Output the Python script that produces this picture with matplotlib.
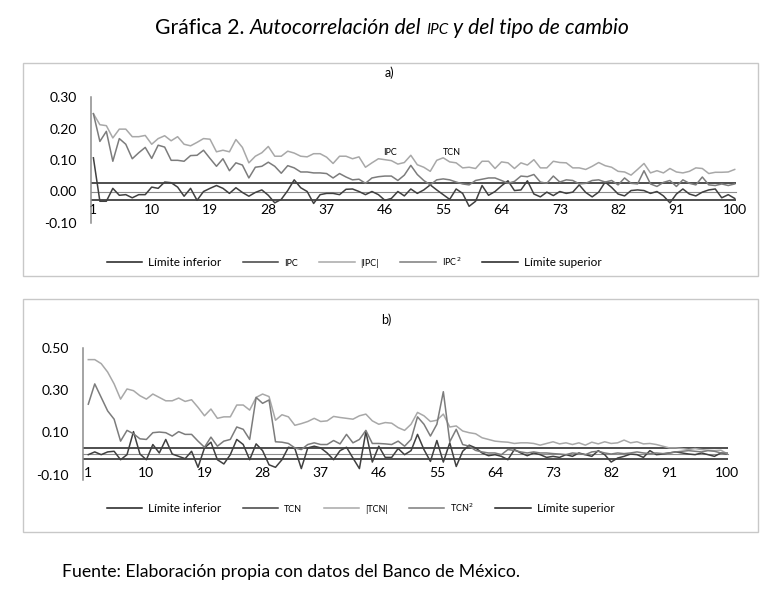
import numpy as np
import matplotlib
matplotlib.use("Agg")
import matplotlib.pyplot as plt
from matplotlib.patches import Rectangle
from matplotlib.ticker import FormatStrFormatter

plt.rcParams['font.family'] = ['Lato', 'DejaVu Sans']

lags = np.arange(1, 101)
xtick_vals = list(range(1, 101, 9))

# limites de confianza
lim_inf = -0.026
lim_sup = 0.026

# panel a) IPC
ipc = [0.107, -0.031, -0.031, 0.010, -0.012, -0.010, -0.020, -0.010, -0.010, 0.014,
       0.010, 0.030, 0.028, 0.014, -0.015, 0.010, -0.028, 0.000, 0.010, 0.019,
       0.010, -0.006, 0.012, -0.003, -0.015, -0.003, 0.005, -0.012, -0.036, -0.025,
       0.003, 0.037, 0.012, 0.000, -0.038, -0.010, -0.006, -0.006, -0.010, 0.007,
       0.008, 0.000, -0.010, 0.000, -0.010, -0.028, -0.022, 0.000, -0.014, 0.008,
       -0.006, 0.005, 0.021, 0.005, -0.010, -0.025, 0.008, -0.006, -0.047, -0.031,
       0.019, -0.012, 0.000, 0.018, 0.034, 0.003, 0.005, 0.034, -0.008, -0.017,
       -0.002, -0.013, 0.000, -0.006, -0.002, 0.021, -0.003, -0.017, -0.002, 0.030,
       0.013, -0.008, -0.014, 0.003, 0.005, 0.003, -0.006, 0.000, -0.014, -0.036,
       -0.008, 0.008, -0.008, -0.014, -0.002, 0.005, 0.008, -0.020, -0.010, -0.022]
ipc_abs = [0.247, 0.212, 0.209, 0.170, 0.198, 0.198, 0.174, 0.174, 0.178, 0.150,
           0.168, 0.177, 0.161, 0.174, 0.150, 0.145, 0.156, 0.168, 0.166, 0.126,
           0.131, 0.126, 0.165, 0.140, 0.091, 0.112, 0.123, 0.143, 0.112, 0.112,
           0.128, 0.122, 0.112, 0.110, 0.120, 0.120, 0.109, 0.089, 0.112, 0.112,
           0.104, 0.110, 0.077, 0.091, 0.104, 0.101, 0.098, 0.087, 0.092, 0.115,
           0.085, 0.077, 0.064, 0.099, 0.107, 0.094, 0.091, 0.075, 0.077, 0.073,
           0.096, 0.096, 0.073, 0.094, 0.091, 0.073, 0.091, 0.084, 0.101, 0.075,
           0.075, 0.096, 0.092, 0.091, 0.075, 0.075, 0.070, 0.080, 0.092, 0.082,
           0.077, 0.064, 0.062, 0.052, 0.070, 0.089, 0.059, 0.066, 0.059, 0.073,
           0.062, 0.059, 0.064, 0.075, 0.073, 0.057, 0.061, 0.061, 0.062, 0.070]
ipc_sq = [0.247, 0.159, 0.191, 0.096, 0.168, 0.150, 0.104, 0.123, 0.140, 0.105,
          0.147, 0.141, 0.099, 0.099, 0.096, 0.114, 0.115, 0.131, 0.105, 0.080,
          0.104, 0.066, 0.091, 0.084, 0.043, 0.077, 0.080, 0.093, 0.080, 0.058,
          0.082, 0.075, 0.062, 0.062, 0.059, 0.059, 0.057, 0.043, 0.057, 0.046,
          0.037, 0.039, 0.026, 0.043, 0.047, 0.049, 0.049, 0.035, 0.052, 0.083,
          0.054, 0.035, 0.021, 0.037, 0.040, 0.037, 0.030, 0.024, 0.021, 0.035,
          0.039, 0.043, 0.043, 0.035, 0.026, 0.032, 0.049, 0.047, 0.054, 0.030,
          0.026, 0.049, 0.030, 0.037, 0.035, 0.024, 0.026, 0.035, 0.037, 0.030,
          0.035, 0.021, 0.043, 0.026, 0.024, 0.066, 0.024, 0.016, 0.029, 0.035,
          0.016, 0.037, 0.026, 0.021, 0.046, 0.021, 0.019, 0.024, 0.019, 0.024]

# panel b) TCN
tcn = [-0.005, 0.008, -0.005, 0.008, 0.011, -0.029, -0.005, 0.104, -0.002, -0.029,
       0.043, 0.003, 0.067, -0.002, -0.013, -0.024, 0.011, -0.065, 0.027, 0.054,
       -0.029, -0.049, -0.005, 0.067, 0.043, -0.029, 0.046, 0.014, -0.053, -0.065,
       -0.029, 0.030, 0.024, -0.071, 0.027, 0.035, 0.027, 0.003, -0.029, 0.014,
       0.030, -0.021, -0.071, 0.104, -0.040, 0.035, -0.018, -0.018, 0.024, -0.005,
       0.014, 0.091, 0.019, -0.037, 0.062, -0.040, 0.051, -0.061, 0.011, 0.040,
       0.027, 0.003, -0.010, -0.005, -0.013, -0.029, 0.019, 0.003, -0.010, 0.003,
       -0.005, -0.018, -0.013, -0.018, -0.005, -0.013, 0.003, -0.005, -0.013, 0.014,
       -0.005, -0.040, -0.021, -0.013, -0.002, -0.005, -0.018, 0.014, -0.005, -0.002,
       0.003, 0.008, 0.003, -0.002, -0.005, 0.003, -0.005, -0.013, 0.003, -0.002]
tcn_abs = [0.445, 0.445, 0.426, 0.386, 0.330, 0.258, 0.306, 0.298, 0.274, 0.258,
           0.282, 0.266, 0.250, 0.250, 0.263, 0.247, 0.255, 0.219, 0.179, 0.211,
           0.167, 0.174, 0.174, 0.230, 0.230, 0.206, 0.266, 0.282, 0.270, 0.158,
           0.184, 0.174, 0.134, 0.142, 0.152, 0.167, 0.152, 0.155, 0.176, 0.171,
           0.167, 0.163, 0.179, 0.187, 0.155, 0.139, 0.147, 0.144, 0.123, 0.110,
           0.139, 0.195, 0.179, 0.152, 0.158, 0.187, 0.126, 0.131, 0.107, 0.099,
           0.094, 0.075, 0.067, 0.059, 0.056, 0.054, 0.048, 0.051, 0.051, 0.048,
           0.040, 0.048, 0.056, 0.046, 0.051, 0.043, 0.051, 0.040, 0.054, 0.046,
           0.056, 0.048, 0.051, 0.064, 0.051, 0.056, 0.046, 0.048, 0.043, 0.035,
           0.027, 0.027, 0.024, 0.019, 0.024, 0.019, 0.016, 0.014, 0.016, -0.001]
tcn_sq = [0.234, 0.330, 0.266, 0.202, 0.163, 0.059, 0.110, 0.094, 0.070, 0.067,
          0.099, 0.102, 0.099, 0.083, 0.104, 0.091, 0.091, 0.059, 0.030, 0.078,
          0.035, 0.059, 0.067, 0.126, 0.115, 0.067, 0.266, 0.238, 0.254, 0.056,
          0.054, 0.048, 0.027, 0.019, 0.043, 0.051, 0.043, 0.043, 0.062, 0.046,
          0.091, 0.051, 0.067, 0.110, 0.048, 0.048, 0.046, 0.043, 0.059, 0.035,
          0.067, 0.174, 0.139, 0.083, 0.139, 0.293, 0.056, 0.115, 0.043, 0.035,
          0.015, 0.008, 0.003, 0.003, -0.005, 0.019, 0.015, 0.008, 0.003, 0.008,
          0.003, 0.003, 0.000, -0.002, -0.005, 0.003, 0.000, -0.005, 0.008, 0.011,
          0.003, -0.002, 0.003, 0.000, 0.003, 0.008, 0.003, 0.000, 0.003, 0.000,
          0.003, 0.008, 0.011, 0.014, 0.011, 0.008, 0.014, 0.011, 0.003, 0.003]

c_lim = '#1e1e1e'
c_dark = '#404040'
c_light = '#a8a8a8'
c_mid = '#7c7c7c'
c_axis = '#8c8c8c'

W, H = 779, 596
fig = plt.figure(figsize=(W / 100, H / 100), dpi=100)

def fx(px):
    return px / W

def fy(py):
    return 1 - py / H

# recuadros
for top, bot in [(63, 276), (299, 532)]:
    fig.add_artist(Rectangle((fx(23), fy(bot)), fx(758) - fx(23), fy(top) - fy(bot),
                             transform=fig.transFigure, fill=False, ec='#c8c8c8', lw=1))


def panel(rect, serie, serie_abs, serie_sq, nombre, ylim, yticks, xlim, pad_x, leg_y):
    ax = fig.add_axes(rect)
    ax.axhline(lim_inf, color=c_lim, lw=1.1, zorder=2)
    ax.axhline(lim_sup, color=c_lim, lw=1.1, zorder=2)
    l1, = ax.plot(lags, serie, color=c_dark, lw=1.1, zorder=3)
    l2, = ax.plot(lags, serie_abs, color=c_light, lw=1.1, zorder=3)
    l3, = ax.plot(lags, serie_sq, color=c_mid, lw=1.1, zorder=3)
    ax.set_ylim(*ylim)
    ax.set_xlim(*xlim)
    ax.set_yticks(yticks)
    ax.yaxis.set_major_formatter(FormatStrFormatter('%.2f'))
    ax.set_xticks(xtick_vals)
    ax.set_xticklabels([str(v) for v in xtick_vals])
    for s in ['top', 'right']:
        ax.spines[s].set_visible(False)
    ax.spines['bottom'].set_position(('data', 0))
    ax.spines['bottom'].set_color(c_axis)
    ax.spines['left'].set_color(c_axis)
    ax.spines['left'].set_linewidth(1.1)
    ax.tick_params(axis='both', length=0, labelsize=10, colors='black')
    ax.tick_params(axis='x', pad=pad_x)
    ax.tick_params(axis='y', pad=10)
    ax.set_facecolor('none')

    hl = plt.Line2D([], [], color=c_lim, lw=1.1)
    labels = ['Límite inferior', nombre, '|' + nombre + '|', nombre + '$^{2}$', 'Límite superior']
    leg = fig.legend([hl, l1, l2, l3, hl], labels, loc='center left',
                     bbox_to_anchor=(fx(107), fy(leg_y)), bbox_transform=fig.transFigure,
                     ncol=5, frameon=False, fontsize=8.5, handlelength=3.0,
                     handletextpad=0.5, columnspacing=1.8, borderpad=0, borderaxespad=0)
    for i in (1, 2, 3):
        leg.get_texts()[i].set_fontsize(6.5)
    return ax


ax_a = panel([fx(91), fy(223), 645 / W, (223 - 97) / H], ipc, ipc_abs, ipc_sq, 'IPC',
             (-0.10, 0.30), [-0.10, 0.00, 0.10, 0.20, 0.30], (0.63, 100.2), 9, 262)
ax_a.text(46.8, 0.124, 'IPC', fontsize=6.5, ha='center', va='center')
ax_a.text(56.4, 0.124, 'TCN', fontsize=6.5, ha='center', va='center')

ax_b = panel([fx(83), fy(480), 645 / W, (480 - 348) / H], tcn, tcn_abs, tcn_sq, 'TCN',
             (-0.125, 0.50), [-0.10, 0.10, 0.30, 0.50], (0.18, 100.1), 10, 508)

fig.text(fx(389), fy(73), 'a)', fontsize=9, ha='center', va='center')
fig.text(fx(386), fy(320), 'b)', fontsize=9, ha='center', va='center')

# titulo con partes en cursiva y versalitas
partes = [('Gráfica 2. ', 'normal', 15.2), ('Autocorrelación del ', 'italic', 15.2),
          ('IPC', 'italic', 11), (' y del tipo de cambio', 'italic', 15.2)]
renderer = fig.canvas.get_renderer()
txts = []
for s, st, fs in partes:
    t = fig.text(0, fy(34), s, fontsize=fs, style=st, ha='left', va='baseline')
    txts.append(t)
anchos = [t.get_window_extent(renderer).width for t in txts]
x0 = 392 - sum(anchos) / 2
for t, w in zip(txts, anchos):
    t.set_x(fx(x0))
    x0 += w

fig.text(fx(62), fy(572), 'Fuente: Elaboración propia con datos del Banco de México.',
         fontsize=12.7, ha='left', va='center')

fig.savefig('out.png', dpi=100)
